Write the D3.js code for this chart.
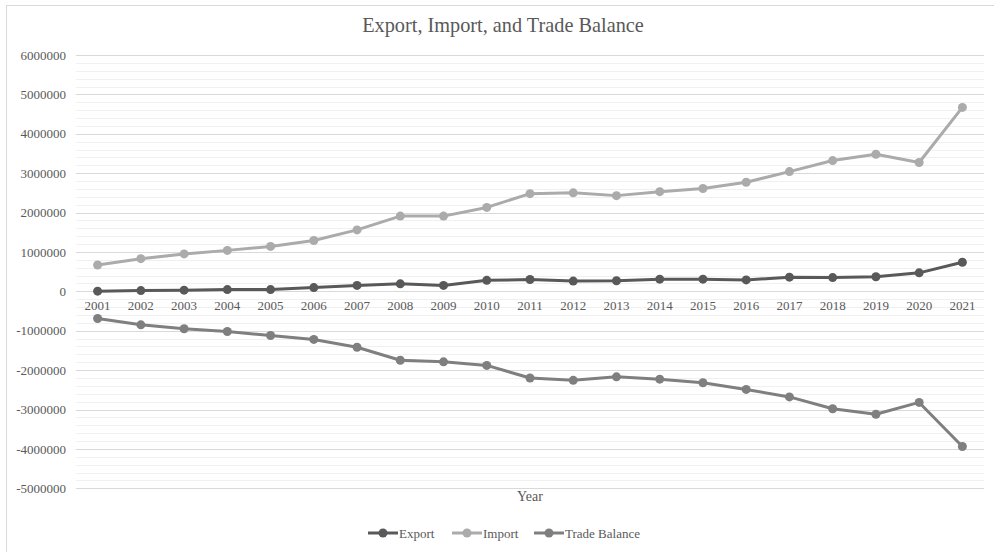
<!DOCTYPE html>
<html>
<head>
<meta charset="utf-8">
<script src="https://cdn.jsdelivr.net/npm/d3@7"></script>
<style>
  html, body { margin: 0; padding: 0; background: #fff; }
  svg { display: block; }
</style>
</head>
<body>
<svg id="chart" width="994" height="552"></svg>
<script>
const years = ["2001","2002","2003","2004","2005","2006","2007","2008","2009","2010","2011","2012","2013","2014","2015","2016","2017","2018","2019","2020","2021"];
const exportVals = [5000, 20000, 30000, 45000, 45000, 95000, 150000, 190000, 150000, 280000, 300000, 260000, 270000, 310000, 310000, 290000, 360000, 350000, 370000, 470000, 740000];
const importVals = [670000, 830000, 950000, 1040000, 1140000, 1290000, 1560000, 1910000, 1910000, 2130000, 2480000, 2500000, 2430000, 2530000, 2610000, 2770000, 3040000, 3320000, 3480000, 3270000, 4670000];
const balanceVals = [-690000, -850000, -950000, -1020000, -1120000, -1220000, -1420000, -1750000, -1790000, -1880000, -2200000, -2260000, -2170000, -2230000, -2320000, -2490000, -2680000, -2980000, -3120000, -2820000, -3940000];
const yTicks = [6000000, 5000000, 4000000, 3000000, 2000000, 1000000, 0, -1000000, -2000000, -3000000, -4000000, -5000000];
const seriesNames = ["Export", "Import", "Trade Balance"];
const seriesColors = ["#595959", "#ababab", "#7f7f7f"];

(function () {
const series = [
  { name: seriesNames[0], values: exportVals, color: seriesColors[0] },
  { name: seriesNames[1], values: importVals, color: seriesColors[1] },
  { name: seriesNames[2], values: balanceVals, color: seriesColors[2] }
];

const svg = d3.select("#chart");
const font = "'Liberation Serif', 'Times New Roman', serif";
const textColor = "#595959";

// outer chart border
svg.append("rect")
  .attr("x", 6.5).attr("y", 5.5)
  .attr("width", 1000).attr("height", 600)
  .attr("fill", "#fff")
  .attr("stroke", "#d9d9d9").attr("stroke-width", 1);

const plotLeft = 76, plotRight = 984, plotTop = 55, plotBottom = 488.3;

const x = d3.scaleBand().domain(years).range([plotLeft, plotRight]);
const y = d3.scaleLinear().domain([-5000000, 6000000]).range([plotBottom, plotTop]);

// minor gridlines
const minorTicks = d3.range(-5000000, 6000001, 200000).filter(v => v % 1000000 !== 0);
svg.append("g").selectAll("line").data(minorTicks).join("line")
  .attr("x1", plotLeft).attr("x2", plotRight)
  .attr("y1", d => Math.round(y(d)) + 0.5).attr("y2", d => Math.round(y(d)) + 0.5)
  .attr("stroke", "#f0f0f0").attr("stroke-width", 1);

// major gridlines
svg.append("g").selectAll("line").data(yTicks).join("line")
  .attr("x1", plotLeft).attr("x2", plotRight)
  .attr("y1", d => Math.round(y(d)) + 0.5).attr("y2", d => Math.round(y(d)) + 0.5)
  .attr("stroke", "#d9d9d9").attr("stroke-width", 1);

// y axis labels
const yAxis = d3.axisLeft(y).tickValues(yTicks).tickSize(0).tickPadding(0).tickFormat(d => String(d));
const gy = svg.append("g").attr("transform", `translate(66,0)`).call(yAxis);
gy.select(".domain").remove();
gy.selectAll("text").attr("font-family", font).attr("font-size", 13).attr("fill", textColor);

// x axis labels at zero line
const xAxis = d3.axisBottom(x).tickSize(0).tickPadding(9);
const gx = svg.append("g").attr("transform", `translate(0,${y(0)})`).call(xAxis);
gx.select(".domain").remove();
gx.selectAll("text").attr("font-family", font).attr("font-size", 13).attr("fill", textColor);

// lines
const line = d3.line()
  .x((d, i) => x(years[i]) + x.bandwidth() / 2)
  .y(d => y(d));

series.forEach(s => {
  const g = svg.append("g");
  g.append("path")
    .attr("d", line(s.values))
    .attr("fill", "none")
    .attr("stroke", s.color)
    .attr("stroke-width", 3)
    .attr("stroke-linejoin", "round");
  g.selectAll("circle").data(s.values).join("circle")
    .attr("cx", (d, i) => x(years[i]) + x.bandwidth() / 2)
    .attr("cy", d => y(d))
    .attr("r", 4.5)
    .attr("fill", s.color);
});

// title
svg.append("text")
  .attr("x", 503).attr("y", 32)
  .attr("text-anchor", "middle")
  .attr("font-family", font).attr("font-size", 20.3)
  .attr("fill", textColor)
  .text("Export, Import, and Trade Balance");

// x axis title
svg.append("text")
  .attr("x", 530).attr("y", 501)
  .attr("text-anchor", "middle")
  .attr("font-family", font).attr("font-size", 14)
  .attr("fill", textColor)
  .text("Year");

// legend
const legendItems = [
  { name: seriesNames[0], color: seriesColors[0], x: 368 },
  { name: seriesNames[1], color: seriesColors[1], x: 452 },
  { name: seriesNames[2], color: seriesColors[2], x: 534 }
];
const lg = svg.append("g");
legendItems.forEach(it => {
  lg.append("line")
    .attr("x1", it.x).attr("x2", it.x + 30)
    .attr("y1", 533).attr("y2", 533)
    .attr("stroke", it.color).attr("stroke-width", 3);
  lg.append("circle")
    .attr("cx", it.x + 15).attr("cy", 533).attr("r", 4.5)
    .attr("fill", it.color);
  lg.append("text")
    .attr("x", it.x + 31).attr("y", 537.5)
    .attr("font-family", font).attr("font-size", 13)
    .attr("fill", textColor)
    .text(it.name);
});
})();
</script>
</body>
</html>
